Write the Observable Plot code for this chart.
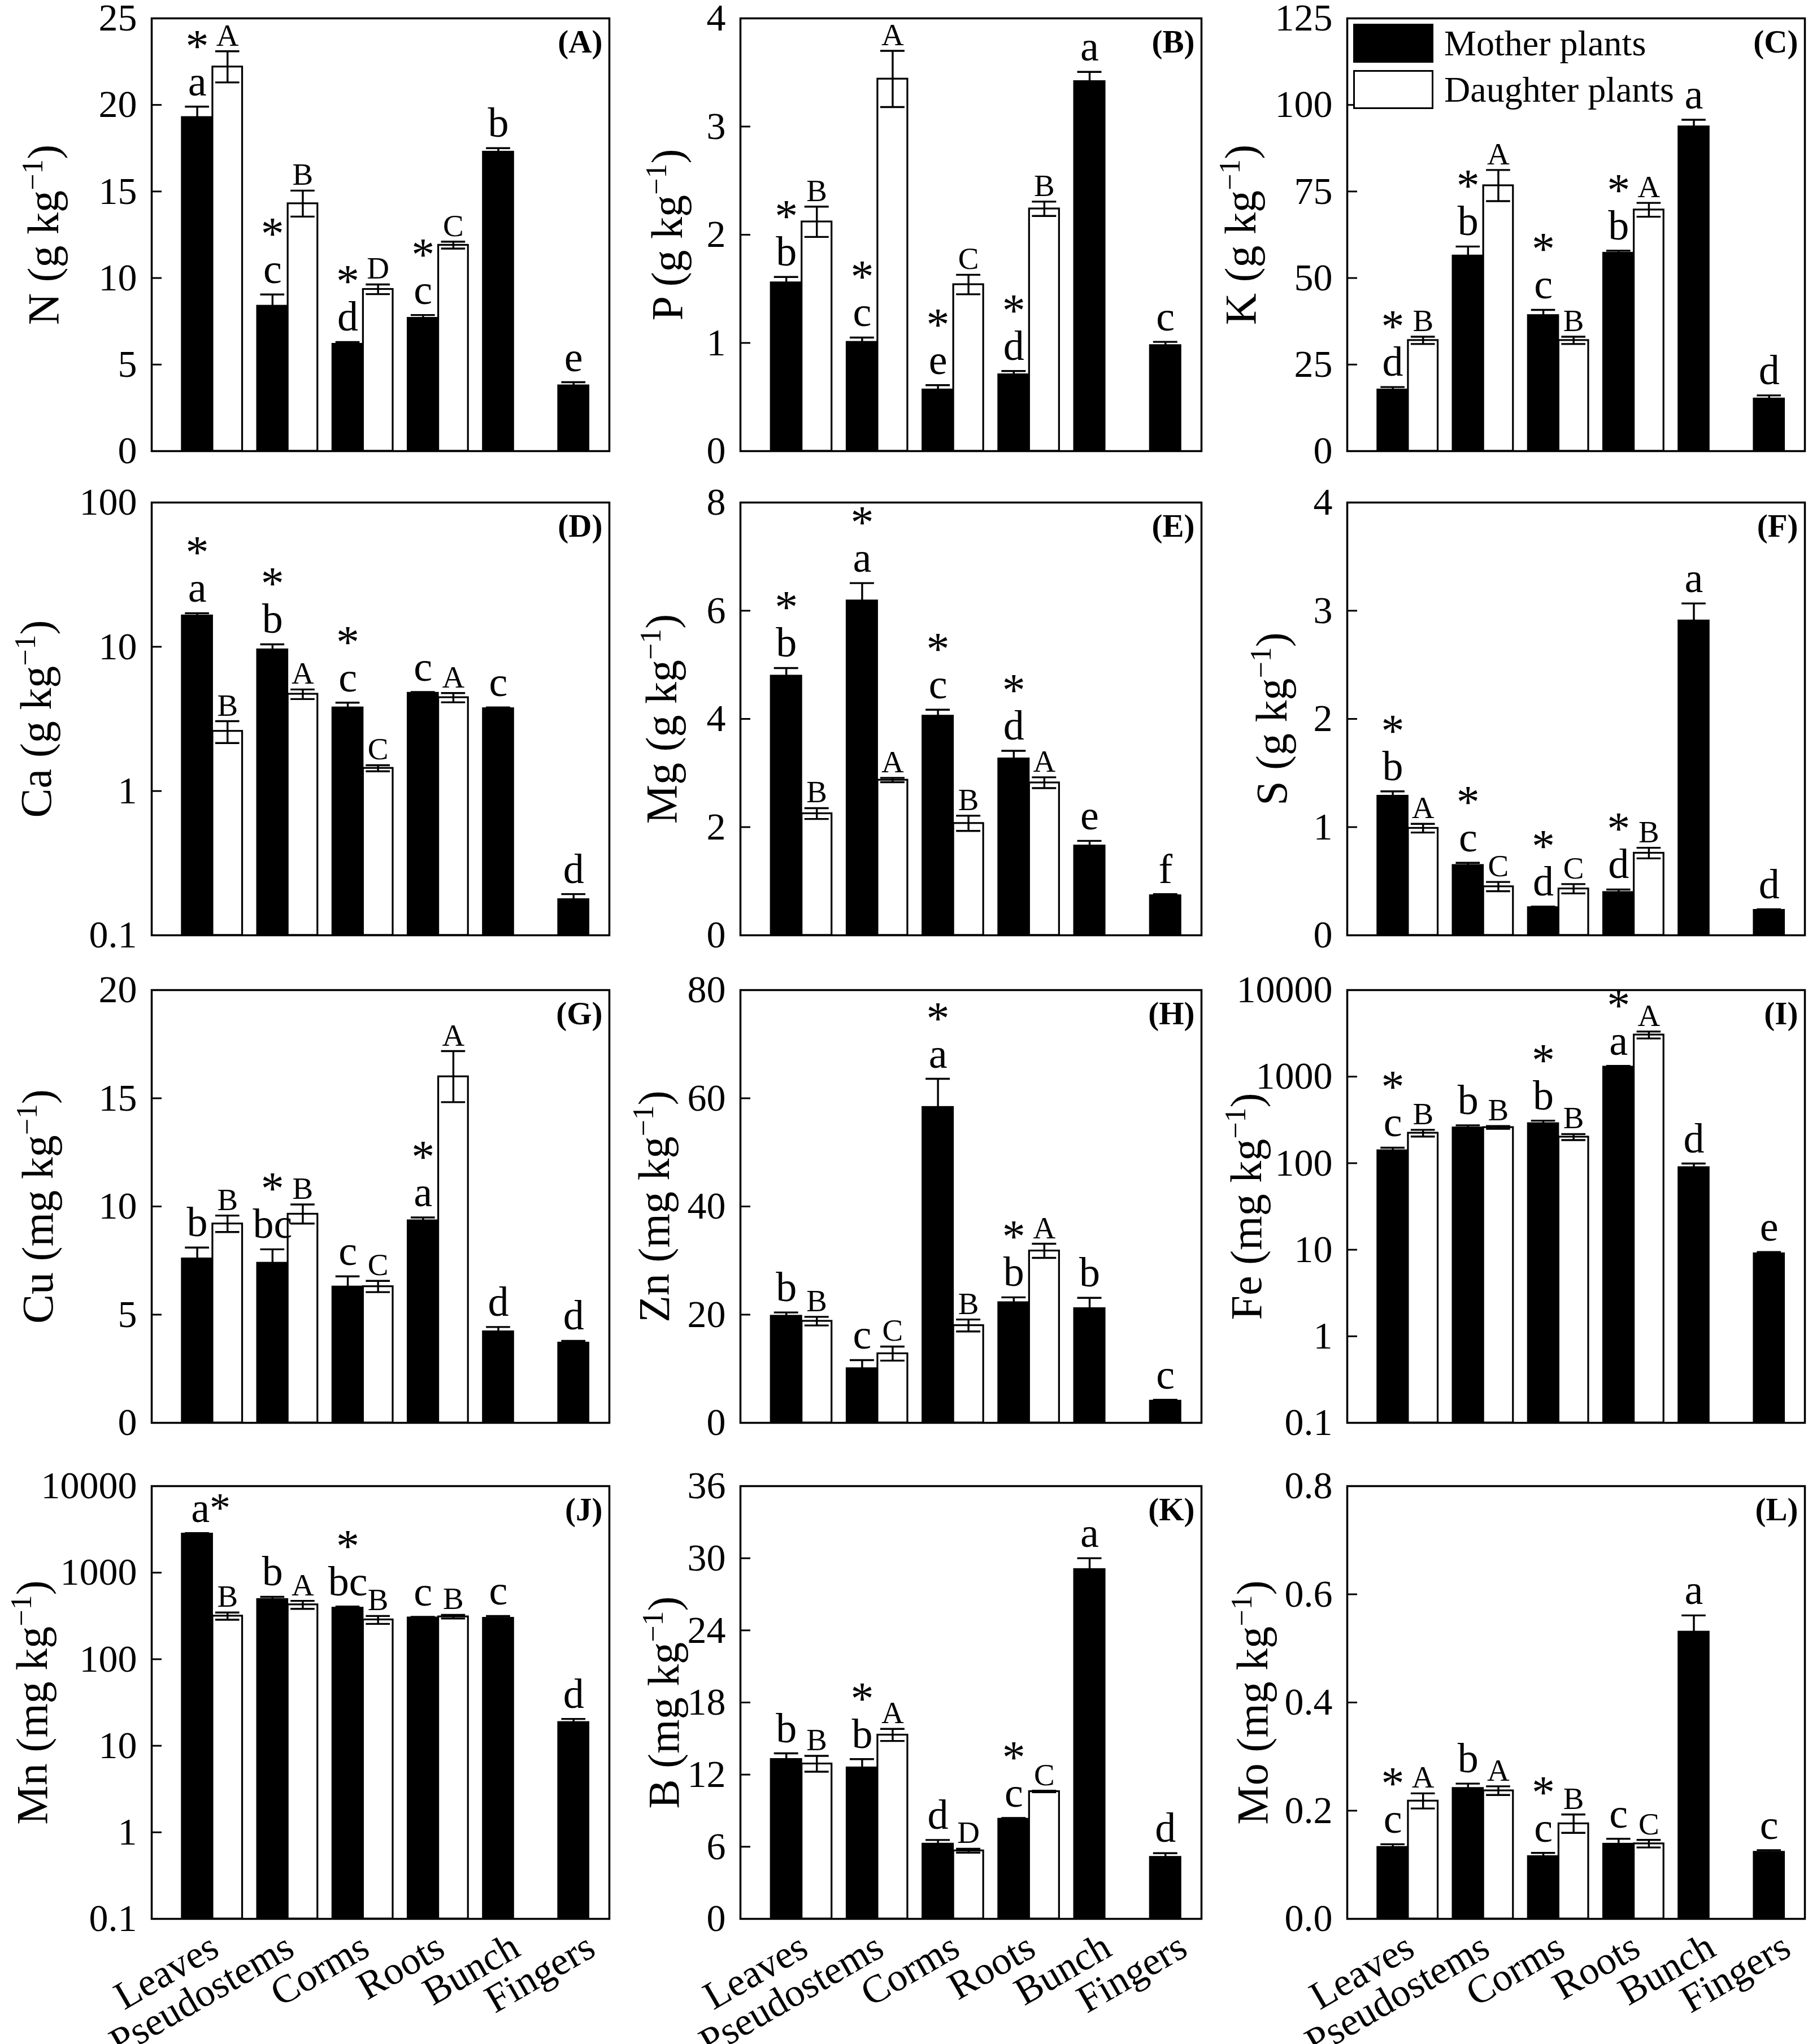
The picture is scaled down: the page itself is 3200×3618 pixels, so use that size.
<!DOCTYPE html>
<html><head><meta charset="utf-8">
<script src="https://cdn.jsdelivr.net/npm/d3@7"></script>
<script src="https://cdn.jsdelivr.net/npm/@observablehq/plot@0.6"></script>
<style>
html,body{margin:0;padding:0;background:#fff;}
#root{position:relative;width:3200px;height:3618px;overflow:hidden;background:#fff;font-family:"Liberation Serif","Times New Roman",serif;}
.panel{position:absolute;}
</style></head><body><div id="root"></div>
<script>
const organs = ["Leaves", "Pseudostems", "Corms", "Roots", "Bunch", "Fingers"];

// star codes: 0 none, 1 above the letter, 2 written after the letter
// (A) N, g kg-1
const N_mother = [19.3, 8.4, 6.2, 7.7, 17.3, 3.8];
const N_motherErr = [0.6, 0.65, 0.1, 0.16, 0.2, 0.18];
const N_daughter = [22.2, 14.3, 9.35, 11.9];
const N_daughterErr = [0.9, 0.75, 0.28, 0.2];
const N_motherLetters = ["a", "c", "d", "c", "b", "e"];
const N_daughterLetters = ["A", "B", "D", "C"];
const N_star = [1, 1, 1, 1, 0, 0];
const N_ticks = [0, 5, 10, 15, 20, 25];

// (B) P
const P_mother = [1.56, 1.01, 0.57, 0.71, 3.42, 0.98];
const P_motherErr = [0.05, 0.04, 0.04, 0.03, 0.085, 0.03];
const P_daughter = [2.12, 3.44, 1.54, 2.24];
const P_daughterErr = [0.14, 0.26, 0.09, 0.066];
const P_motherLetters = ["b", "c", "e", "d", "a", "c"];
const P_daughterLetters = ["B", "A", "C", "B"];
const P_star = [1, 1, 1, 1, 0, 0];
const P_ticks = [0, 1, 2, 3, 4];

// (C) K
const K_mother = [17.8, 56.5, 39.3, 57.3, 93.8, 15.2];
const K_motherErr = [0.7, 2.6, 1.5, 0.6, 1.9, 0.9];
const K_daughter = [32.0, 76.7, 32.0, 69.7];
const K_daughterErr = [1.05, 4.5, 1.05, 2.0];
const K_motherLetters = ["d", "b", "c", "b", "a", "d"];
const K_daughterLetters = ["B", "A", "B", "A"];
const K_star = [1, 1, 1, 1, 0, 0];
const K_ticks = [0, 25, 50, 75, 100, 125];

// (D) Ca (log)
const Ca_mother = [16.5, 9.6, 3.8, 4.8, 3.75, 0.178];
const Ca_motherErr = [0.6, 0.8, 0.3, 0.05, 0.05, 0.015];
const Ca_daughter = [2.6, 4.7, 1.44, 4.45];
const Ca_daughterErr = [0.45, 0.36, 0.07, 0.33];
const Ca_motherLetters = ["a", "b", "c", "c", "c", "d"];
const Ca_daughterLetters = ["B", "A", "C", "A"];
const Ca_star = [1, 1, 1, 0, 0, 0];
const Ca_ticks = [0.1, 1, 10, 100];

// (E) Mg
const Mg_mother = [4.80, 6.19, 4.06, 3.27, 1.66, 0.74];
const Mg_motherErr = [0.14, 0.32, 0.11, 0.14, 0.085, 0.02];
const Mg_daughter = [2.25, 2.87, 2.07, 2.82];
const Mg_daughterErr = [0.1, 0.04, 0.14, 0.1];
const Mg_motherLetters = ["b", "a", "c", "d", "e", "f"];
const Mg_daughterLetters = ["B", "A", "B", "A"];
const Mg_star = [1, 1, 1, 1, 0, 0];
const Mg_ticks = [0, 2, 4, 6, 8];

// (F) S
const S_mother = [1.29, 0.65, 0.26, 0.40, 2.91, 0.235];
const S_motherErr = [0.04, 0.02, 0.005, 0.023, 0.157, 0.005];
const S_daughter = [0.99, 0.45, 0.43, 0.76];
const S_daughterErr = [0.04, 0.043, 0.043, 0.049];
const S_motherLetters = ["b", "c", "d", "d", "a", "d"];
const S_daughterLetters = ["A", "C", "C", "B"];
const S_star = [1, 1, 1, 1, 0, 0];
const S_ticks = [0, 1, 2, 3, 4];

// (G) Cu, mg kg-1
const Cu_mother = [7.6, 7.4, 6.3, 9.36, 4.23, 3.71];
const Cu_motherErr = [0.5, 0.62, 0.47, 0.13, 0.2, 0.08];
const Cu_daughter = [9.2, 9.65, 6.3, 16.0];
const Cu_daughterErr = [0.38, 0.44, 0.26, 1.18];
const Cu_motherLetters = ["b", "bc", "c", "a", "d", "d"];
const Cu_daughterLetters = ["B", "B", "C", "A"];
const Cu_star = [0, 1, 0, 1, 0, 0];
const Cu_ticks = [0, 5, 10, 15, 20];

// (H) Zn
const Zn_mother = [19.8, 10.1, 58.4, 22.3, 21.2, 4.1];
const Zn_motherErr = [0.6, 1.5, 5.2, 0.9, 1.9, 0.15];
const Zn_daughter = [18.8, 12.8, 18.0, 31.8];
const Zn_daughterErr = [0.8, 1.3, 1.1, 1.3];
const Zn_motherLetters = ["b", "c", "a", "b", "b", "c"];
const Zn_daughterLetters = ["B", "C", "B", "A"];
const Zn_star = [0, 0, 1, 1, 0, 0];
const Zn_ticks = [0, 20, 40, 60, 80];

// (I) Fe (log)
const Fe_mother = [141, 259, 290, 1305, 90, 9.1];
const Fe_motherErr = [10, 15, 20, 25, 9, 0.3];
const Fe_daughter = [223, 259, 201, 3040];
const Fe_daughterErr = [20, 9, 16, 280];
const Fe_motherLetters = ["c", "b", "b", "a", "d", "e"];
const Fe_daughterLetters = ["B", "B", "B", "A"];
const Fe_star = [1, 0, 1, 1, 0, 0];
const Fe_ticks = [0.1, 1, 10, 100, 1000, 10000];

// (J) Mn (log)
const Mn_mother = [2830, 496, 394, 304, 301, 18.8];
const Mn_motherErr = [30, 30, 12, 5, 15, 1.6];
const Mn_daughter = [316, 427, 286, 310];
const Mn_daughterErr = [30, 45, 30, 15];
const Mn_motherLetters = ["a", "b", "bc", "c", "c", "d"];
const Mn_daughterLetters = ["B", "A", "B", "B"];
const Mn_star = [2, 0, 1, 0, 0, 0];
const Mn_ticks = [0.1, 1, 10, 100, 1000, 10000];

// (K) B
const B_mother = [13.3, 12.6, 6.26, 8.33, 29.1, 5.16];
const B_motherErr = [0.47, 0.69, 0.3, 0.06, 0.9, 0.3];
const B_daughter = [12.9, 15.3, 5.67, 10.6];
const B_daughterErr = [0.66, 0.5, 0.16, 0.06];
const B_motherLetters = ["b", "b", "d", "c", "a", "d"];
const B_daughterLetters = ["B", "A", "D", "C"];
const B_star = [0, 1, 0, 1, 0, 0];
const B_ticks = [0, 6, 12, 18, 24, 30, 36];

// (L) Mo
const Mo_mother = [0.133, 0.242, 0.116, 0.139, 0.531, 0.124];
const Mo_motherErr = [0.005, 0.008, 0.006, 0.009, 0.03, 0.003];
const Mo_daughter = [0.218, 0.237, 0.176, 0.139];
const Mo_daughterErr = [0.014, 0.008, 0.017, 0.007];
const Mo_motherLetters = ["c", "b", "c", "c", "a", "c"];
const Mo_daughterLetters = ["A", "A", "B", "C"];
const Mo_star = [1, 0, 1, 0, 0, 0];
const Mo_ticks = [0, 0.2, 0.4, 0.6, 0.8];

const legendLabels = ["Mother plants", "Daughter plants"];

const fmtG = d3.format("~g");
const fmt1 = d3.format(".1f");

const panelDefs = [
  {tag: "(A)", el: "N", unit: "g", type: "linear", domain: [0, 25], ticks: N_ticks, fmt: fmtG, m: N_mother, me: N_motherErr, d: N_daughter, de: N_daughterErr, ml: N_motherLetters, dl: N_daughterLetters, star: N_star, labelOffset: 221},
  {tag: "(B)", el: "P", unit: "g", type: "linear", domain: [0, 4], ticks: P_ticks, fmt: fmtG, m: P_mother, me: P_motherErr, d: P_daughter, de: P_daughterErr, ml: P_motherLetters, dl: P_daughterLetters, star: P_star, labelOffset: 159},
  {tag: "(C)", el: "K", unit: "g", type: "linear", domain: [0, 125], ticks: K_ticks, fmt: fmtG, m: K_mother, me: K_motherErr, d: K_daughter, de: K_daughterErr, ml: K_motherLetters, dl: K_daughterLetters, star: K_star, labelOffset: 218},
  {tag: "(D)", el: "Ca", unit: "g", type: "log", domain: [0.1, 100], ticks: Ca_ticks, fmt: fmtG, m: Ca_mother, me: Ca_motherErr, d: Ca_daughter, de: Ca_daughterErr, ml: Ca_motherLetters, dl: Ca_daughterLetters, star: Ca_star, labelOffset: 234},
  {tag: "(E)", el: "Mg", unit: "g", type: "linear", domain: [0, 8], ticks: Mg_ticks, fmt: fmtG, m: Mg_mother, me: Mg_motherErr, d: Mg_daughter, de: Mg_daughterErr, ml: Mg_motherLetters, dl: Mg_daughterLetters, star: Mg_star, labelOffset: 169},
  {tag: "(F)", el: "S", unit: "g", type: "linear", domain: [0, 4], ticks: S_ticks, fmt: fmtG, m: S_mother, me: S_motherErr, d: S_daughter, de: S_daughterErr, ml: S_motherLetters, dl: S_daughterLetters, star: S_star, labelOffset: 163},
  {tag: "(G)", el: "Cu", unit: "mg", type: "linear", domain: [0, 20], ticks: Cu_ticks, fmt: fmtG, m: Cu_mother, me: Cu_motherErr, d: Cu_daughter, de: Cu_daughterErr, ml: Cu_motherLetters, dl: Cu_daughterLetters, star: Cu_star, labelOffset: 231},
  {tag: "(H)", el: "Zn", unit: "mg", type: "linear", domain: [0, 80], ticks: Zn_ticks, fmt: fmtG, m: Zn_mother, me: Zn_motherErr, d: Zn_daughter, de: Zn_daughterErr, ml: Zn_motherLetters, dl: Zn_daughterLetters, star: Zn_star, labelOffset: 182},
  {tag: "(I)", el: "Fe", unit: "mg", type: "log", domain: [0.1, 10000], ticks: Fe_ticks, fmt: fmtG, m: Fe_mother, me: Fe_motherErr, d: Fe_daughter, de: Fe_daughterErr, ml: Fe_motherLetters, dl: Fe_daughterLetters, star: Fe_star, labelOffset: 208},
  {tag: "(J)", el: "Mn", unit: "mg", type: "log", domain: [0.1, 10000], ticks: Mn_ticks, fmt: fmtG, m: Mn_mother, me: Mn_motherErr, d: Mn_daughter, de: Mn_daughterErr, ml: Mn_motherLetters, dl: Mn_daughterLetters, star: Mn_star, labelOffset: 241},
  {tag: "(K)", el: "B", unit: "mg", type: "linear", domain: [0, 36], ticks: B_ticks, fmt: fmtG, m: B_mother, me: B_motherErr, d: B_daughter, de: B_daughterErr, ml: B_motherLetters, dl: B_daughterLetters, star: B_star, labelOffset: 165},
  {tag: "(L)", el: "Mo", unit: "mg", type: "linear", domain: [0, 0.8], ticks: Mo_ticks, fmt: fmt1, m: Mo_mother, me: Mo_motherErr, d: Mo_daughter, de: Mo_daughterErr, ml: Mo_motherLetters, dl: Mo_daughterLetters, star: Mo_star, labelOffset: 197}
];

const root = document.getElementById("root");
const colLeft = [268, 1310, 2384];
const colWidth = [810, 816, 810];
const rowTop = [32, 889, 1752, 2630];
const FH = 766, ML = 260, MR = 24, MT = 44;
const BW_M = 0.41, BW_D = 0.395, CAP = 0.16;
const NS = "http://www.w3.org/2000/svg";
const FONT = "Liberation Serif, Times New Roman, serif";

panelDefs.forEach((p, idx) => {
  const col = idx % 3, row = Math.floor(idx / 3);
  const FW = colWidth[col];
  const MB = row === 3 ? 200 : 30;
  const y0 = p.domain[0];
  const mothers = organs.map((o, i) => ({i, cx: i - BW_M / 2, v: p.m[i], e: p.me[i], letter: p.ml[i], star: p.star[i]}));
  const daughters = p.d.map((v, i) => ({i, cx: i + BW_D / 2, v, e: p.de[i], letter: p.dl[i]}));
  const all = mothers.concat(daughters);
  const top = d => d.v + d.e;
  const marks = [
    Plot.rectY(mothers, {x1: d => d.i - BW_M, x2: d => d.i, y1: () => y0, y2: "v", fill: "black", stroke: "black", strokeWidth: 2}),
    Plot.rectY(daughters, {x1: d => d.i, x2: d => d.i + BW_D, y1: () => y0, y2: "v", fill: "white", stroke: "black", strokeWidth: 3.2}),
    Plot.ruleX(all, {x: "cx", y1: d => d.v - d.e, y2: top, stroke: "black", strokeWidth: 3.4}),
    Plot.ruleY(all, {y: top, x1: d => d.cx - CAP, x2: d => d.cx + CAP, stroke: "black", strokeWidth: 3.4}),
    Plot.ruleY(daughters, {y: d => d.v - d.e, x1: d => d.cx - CAP, x2: d => d.cx + CAP, stroke: "black", strokeWidth: 3.4}),
    Plot.text(mothers.filter(d => d.star !== 2), {x: "cx", y: top, text: "letter", dy: -20, lineAnchor: "bottom", fontSize: 74}),
    Plot.text(mothers.filter(d => d.star === 2), {x: "cx", y: top, text: d => d.letter + "*", dx: 24, dy: -20, lineAnchor: "bottom", fontSize: 74}),
    Plot.text(mothers.filter(d => d.star === 1), {x: "cx", y: top, text: () => "*", dy: -80, lineAnchor: "bottom", fontSize: 82}),
    Plot.text(daughters, {x: "cx", y: top, text: "letter", dy: -10, lineAnchor: "bottom", fontSize: 55}),
    Plot.text([p.tag], {frameAnchor: "top-right", text: d => d, dx: -12, dy: 60, lineAnchor: "bottom", fontWeight: "bold", fontSize: 57}),
    Plot.axisY({ticks: p.ticks, tickFormat: p.fmt, tickSize: -18, tickPadding: 44, fontSize: 68, strokeWidth: 3, label: null}),
    Plot.axisY({ticks: [], tickSize: 0, label: `${p.el} (${p.unit} kg§)`, labelAnchor: "center", labelOffset: p.labelOffset, labelArrow: "none", fontSize: 78}),
    Plot.frame({stroke: "black", strokeWidth: 3.5})
  ];
  if (row === 3) {
    marks.push(Plot.text(organs.map((o, i) => ({o, i})), {x: "i", text: "o", frameAnchor: "bottom", dx: 15, dy: 63, rotate: -30, textAnchor: "end", lineAnchor: "bottom", fontSize: 70}));
  }
  const W = ML + FW + MR, H = MT + FH + MB;
  const svg = Plot.plot({
    width: W, height: H,
    marginLeft: ML, marginRight: MR, marginTop: MT, marginBottom: MB,
    style: {fontFamily: FONT, background: "transparent", overflow: "visible", maxWidth: "none", color: "black"},
    x: {type: "linear", domain: [-0.81, 5.27], axis: null},
    y: {type: p.type, domain: p.domain, axis: null},
    marks
  });
  svg.querySelectorAll("text").forEach(t => {
    if (t.textContent.includes("§")) {
      const [pre, post] = t.textContent.split("§");
      t.textContent = "";
      const a = document.createElementNS(NS, "tspan"); a.textContent = pre; t.appendChild(a);
      const s = document.createElementNS(NS, "tspan"); s.textContent = "\u22121"; s.setAttribute("dy", "-28"); s.setAttribute("font-size", "52"); t.appendChild(s);
      const c = document.createElementNS(NS, "tspan"); c.textContent = post; c.setAttribute("dy", "28"); t.appendChild(c);
    }
  });
  const div = document.createElement("div");
  div.className = "panel";
  div.style.left = (colLeft[col] - ML) + "px";
  div.style.top = (rowTop[row] - MT) + "px";
  div.style.width = W + "px";
  div.style.height = H + "px";
  div.appendChild(svg);
  root.appendChild(div);
});

// Legend (panel C)
const leg = document.createElementNS(NS, "svg");
leg.setAttribute("width", 3200); leg.setAttribute("height", 300);
leg.style.position = "absolute"; leg.style.left = "0px"; leg.style.top = "0px"; leg.style.overflow = "visible";
const lx = colLeft[2] + 11, ly = rowTop[0] + 10;
const legendFills = ["black", "white"];
legendLabels.forEach((lab, k) => {
  const r = document.createElementNS(NS, "rect");
  r.setAttribute("x", lx + 1.5); r.setAttribute("y", ly + k * 82 + 1.5);
  r.setAttribute("width", 139); r.setAttribute("height", 66);
  r.setAttribute("fill", legendFills[k]); r.setAttribute("stroke", "black"); r.setAttribute("stroke-width", 3);
  leg.appendChild(r);
  const t = document.createElementNS(NS, "text");
  t.setAttribute("x", lx + 161); t.setAttribute("y", ly + k * 82 + 56);
  t.setAttribute("font-size", 64); t.setAttribute("font-family", FONT);
  t.textContent = lab;
  leg.appendChild(t);
});
root.appendChild(leg);
</script>
</body></html>
